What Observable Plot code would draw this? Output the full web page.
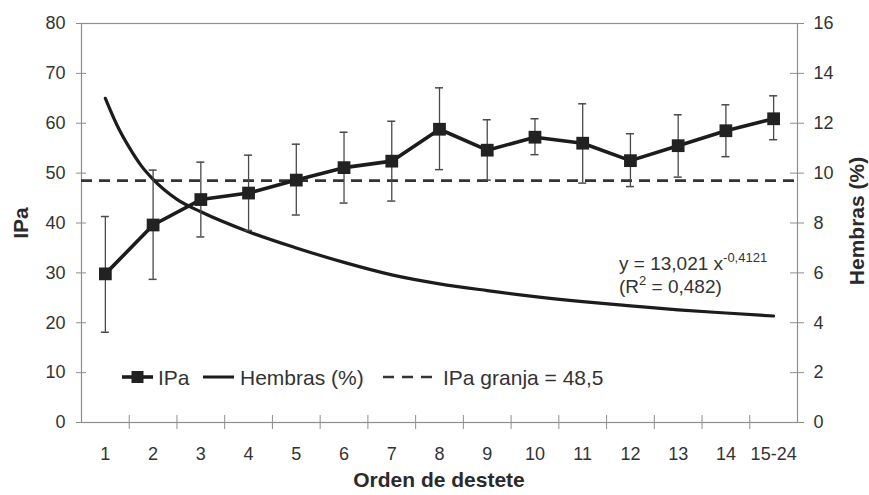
<!DOCTYPE html>
<html><head><meta charset="utf-8">
<script src="https://cdn.jsdelivr.net/npm/d3@7"></script>
<script src="https://cdn.jsdelivr.net/npm/@observablehq/plot@0.6"></script>
<style>
body{margin:0;background:#fff;}
#chart{position:relative;width:869px;height:495px;}
</style></head><body><div id="chart"></div>
<script>
// ---- data ----
const categories = ["1","2","3","4","5","6","7","8","9","10","11","12","13","14","15-24"];
const ipa      = [29.8, 39.6, 44.7, 46.0, 48.6, 51.1, 52.4, 58.8, 54.6, 57.2, 56.0, 52.5, 55.5, 58.5, 60.9];
const ipaLow   = [18.1, 28.7, 37.2, 38.5, 41.6, 44.0, 44.4, 50.7, 48.6, 53.7, 48.0, 47.3, 49.2, 53.3, 56.7];
const ipaHigh  = [41.3, 50.6, 52.2, 53.6, 55.8, 58.2, 60.4, 67.1, 60.7, 60.9, 63.9, 57.9, 61.7, 63.7, 65.5];
// Hembras (%) fitted curve at these positions along the category axis
const hembrasPos = [1, 1.25, 1.5, 1.75, 2, 2.5, 3, 4, 5, 6, 7, 8, 9, 10, 11, 12, 13, 14, 15];
const hembras    = [13.0, 11.9, 11.03, 10.3, 9.75, 8.95, 8.45, 7.65, 7.0, 6.42, 5.92, 5.56, 5.29, 5.05, 4.85, 4.68, 4.52, 4.39, 4.27];
const ipaGranja = 48.5;
const leftTicks  = [0, 10, 20, 30, 40, 50, 60, 70, 80];
const rightTicks = [0, 2, 4, 6, 8, 10, 12, 14, 16];
const leftLabel = "IPa", rightLabel = "Hembras (%)", xLabel = "Orden de destete";
const legendLabels = ["IPa", "Hembras (%)", "IPa granja = 48,5"];
const equation = ["y = 13,021 x", "-0,4121"];
const r2 = ["(R", "2", " = 0,482)"];

// ---- build ----
const ratio = leftTicks[leftTicks.length - 1] / rightTicks[rightTicks.length - 1];
const data = categories.map((c, i) => ({
  pos: i + 1, cat: c, ipa: ipa[i], low: ipaLow[i], high: ipaHigh[i]
}));
const curve = hembrasPos.map((p, i) => ({pos: p, hem: hembras[i] * ratio}));
const xDomain = [0.5, categories.length + 0.5];
const boundaries = d3.range(1.5, categories.length, 1);
const grey = "#8e8e8e";
const ink = "#1c1c1c";

const chart = Plot.plot({
  width: 869, height: 495,
  marginLeft: 81, marginRight: 72, marginTop: 23, marginBottom: 73,
  style: {fontFamily: "'Liberation Sans', Arial, sans-serif", fontSize: "18px", color: "#333", background: "#fff"},
  x: {type: "linear", domain: xDomain},
  y: {domain: [leftTicks[0], leftTicks[leftTicks.length - 1]]},
  marks: [
    Plot.frame({stroke: grey, strokeWidth: 1.2}),
    Plot.axisY(leftTicks, {anchor: "left", tickSize: 0, tickPadding: 16, label: null, fontSize: 18}),
    Plot.axisY(rightTicks.map(v => v * ratio), {anchor: "right", tickSize: 0, tickPadding: 16, label: null, fontSize: 18, tickFormat: d => d / ratio}),
    Plot.axisX(d3.range(1, categories.length + 1), {anchor: "bottom", tickSize: 0, tickPadding: 25, label: null, fontSize: 18, tickFormat: i => categories[i - 1]}),
    Plot.ruleX(boundaries, {y1: leftTicks[0], y2: leftTicks[0], insetTop: -7, insetBottom: -7, stroke: grey, strokeWidth: 1}),
    Plot.ruleY(leftTicks, {x1: xDomain[0], x2: xDomain[0], insetLeft: -5, insetRight: -5, stroke: grey, strokeWidth: 1}),
    Plot.ruleY(rightTicks.map(v => v * ratio), {x1: xDomain[1], x2: xDomain[1], insetLeft: -7, insetRight: -7, stroke: grey, strokeWidth: 1}),
    Plot.ruleY([ipaGranja], {stroke: "#333", strokeWidth: 2.6, strokeDasharray: "11,7"}),
    Plot.line(curve, {x: "pos", y: "hem", curve: "monotone-x", stroke: ink, strokeWidth: 3.2}),
    Plot.ruleX(data, {x: "pos", y1: "low", y2: "high", stroke: "#4a4a4a", strokeWidth: 1.3}),
    Plot.ruleY(data, {x1: "pos", x2: "pos", y: "low", insetLeft: -4, insetRight: -4, stroke: "#4a4a4a", strokeWidth: 1.5}),
    Plot.ruleY(data, {x1: "pos", x2: "pos", y: "high", insetLeft: -4, insetRight: -4, stroke: "#4a4a4a", strokeWidth: 1.5}),
    Plot.line(data, {x: "pos", y: "ipa", stroke: ink, strokeWidth: 3.6}),
    Plot.dot(data, {x: "pos", y: "ipa", symbol: "square", r: 7.2, fill: "#222", stroke: "none"})
  ]
});
document.getElementById("chart").appendChild(chart);

const svg = d3.select(chart);
const font = "'Liberation Sans', Arial, sans-serif";
// axis titles
svg.append("text").attr("transform", "translate(28,223) rotate(-90)").attr("text-anchor", "middle")
  .attr("font-family", font).attr("font-weight", "bold").attr("font-size", 21).attr("fill", "#2a2a2a").text(leftLabel);
svg.append("text").attr("transform", "translate(864,221) rotate(-90)").attr("text-anchor", "middle")
  .attr("font-family", font).attr("font-weight", "bold").attr("font-size", 21).attr("fill", "#2a2a2a").text(rightLabel);
svg.append("text").attr("x", 439).attr("y", 487).attr("text-anchor", "middle")
  .attr("font-family", font).attr("font-weight", "bold").attr("font-size", 21).attr("fill", "#2a2a2a").text(xLabel);

// legend
const lg = svg.append("g").attr("font-family", font).attr("font-size", 21).attr("fill", "#333").attr("text-anchor", "start");
lg.append("line").attr("x1", 122).attr("x2", 153).attr("y1", 377).attr("y2", 377).attr("stroke", ink).attr("stroke-width", 3.6);
lg.append("rect").attr("x", 131.5).attr("y", 371).attr("width", 12).attr("height", 12).attr("fill", "#222");
lg.append("text").attr("x", 158).attr("y", 385).text(legendLabels[0]);
lg.append("line").attr("x1", 203).attr("x2", 234).attr("y1", 377).attr("y2", 377).attr("stroke", ink).attr("stroke-width", 3);
lg.append("text").attr("x", 240).attr("y", 385).text(legendLabels[1]);
lg.append("line").attr("x1", 383).attr("x2", 432).attr("y1", 377).attr("y2", 377).attr("stroke", "#333").attr("stroke-width", 2.6).attr("stroke-dasharray", "11,8");
lg.append("text").attr("x", 443).attr("y", 385).text(legendLabels[2]);

// equation
const eq = svg.append("g").attr("font-family", font).attr("font-size", 19).attr("fill", "#333").attr("text-anchor", "start");
const t1 = eq.append("text").attr("x", 619).attr("y", 270);
t1.append("tspan").text(equation[0]);
t1.append("tspan").attr("font-size", 13).attr("dy", -8).text(equation[1]);
const t2 = eq.append("text").attr("x", 619).attr("y", 293);
t2.append("tspan").text(r2[0]);
t2.append("tspan").attr("font-size", 13).attr("dy", -8).text(r2[1]);
t2.append("tspan").attr("dy", 8).text(r2[2]);
</script></body></html>
